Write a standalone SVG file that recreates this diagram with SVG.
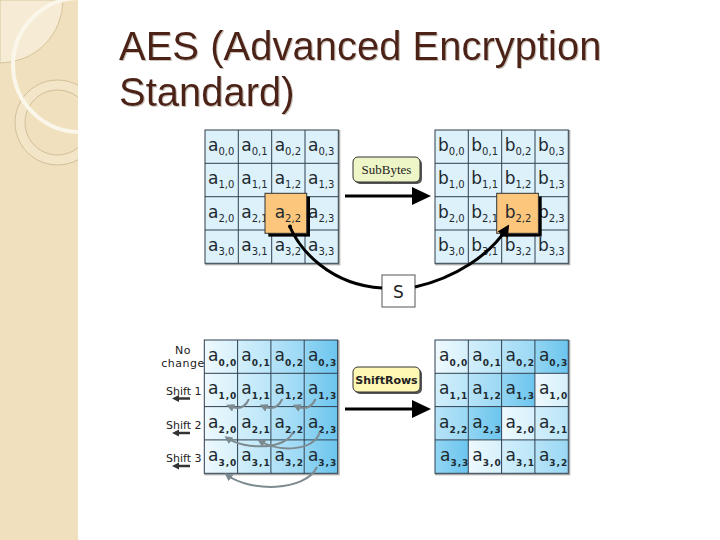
<svg xmlns="http://www.w3.org/2000/svg" width="720" height="540" viewBox="0 0 720 540">
<style>
.title{font-family:"Liberation Sans",Arial,sans-serif;font-size:40px;fill:#4e2418}
.m{font-family:"DejaVu Sans",sans-serif;font-size:17px;fill:#1e2a30}
.s{font-size:10px}
.mb .s{font-size:9px;font-weight:bold;letter-spacing:1px}
.cell{fill:#ddf1fb;stroke:#2f3f48;stroke-width:1}
.cb{stroke:#2f4050;stroke-width:1}
.shadow{fill:none;stroke:#a8a8a8;stroke-width:2}
.lbl{font-family:"DejaVu Sans",sans-serif;font-size:11px;fill:#222}
.gray{fill:none;stroke:#7d8a90;stroke-width:2}
.blk{fill:none;stroke:#000;stroke-width:3}
</style>
<defs>
<linearGradient id="g0" x1="0" y1="0" x2="1" y2="0"><stop offset="0" stop-color="#eef9fe"/><stop offset="1" stop-color="#d6f0fb"/></linearGradient>
<linearGradient id="g1" x1="0" y1="0" x2="1" y2="0"><stop offset="0" stop-color="#d2eefb"/><stop offset="1" stop-color="#bae6f8"/></linearGradient>
<linearGradient id="g2" x1="0" y1="0" x2="1" y2="0"><stop offset="0" stop-color="#b6e3f8"/><stop offset="1" stop-color="#9ad8f4"/></linearGradient>
<linearGradient id="g3" x1="0" y1="0" x2="1" y2="0"><stop offset="0" stop-color="#92d5f3"/><stop offset="1" stop-color="#6cc5ee"/></linearGradient>
<marker id="ga" markerWidth="8" markerHeight="8" refX="5" refY="4" orient="auto" markerUnits="userSpaceOnUse"><path d="M0,0 L8,4 L0,8 z" fill="#7d8a90"/></marker>
<marker id="ba" markerWidth="12" markerHeight="12" refX="8" refY="6" orient="auto" markerUnits="userSpaceOnUse"><path d="M0,0 L12,6 L0,12 z" fill="#000"/></marker>
<clipPath id="stripe"><rect x="0" y="0" width="78" height="540"/></clipPath>
<filter id="ts" x="-5%" y="-20%" width="110%" height="140%"><feDropShadow dx="1" dy="1" stdDeviation="0.6" flood-color="#bfb3a8" flood-opacity="0.8"/></filter>
</defs>
<rect width="720" height="540" fill="#fff"/>
<g id="decor" clip-path="url(#stripe)">
<rect x="0" y="0" width="78" height="540" fill="#f0e0bd"/>
<path d="M0,0 H63 A63,63 0 0 1 0,63 Z" fill="#f6ecd6" stroke="#d6c39c" stroke-width="1"/>
<path d="M57.5,80 a42.5,42.5 0 1 0 0.01,0 Z M57.5,90 a32.5,32.5 0 1 1 -0.01,0 Z" fill="#f3e6c8" fill-rule="evenodd" stroke="#d3bf98" stroke-width="1"/>
<circle cx="80" cy="65" r="67" fill="none" stroke="#fbf6ea" stroke-width="4"/>
</g>
<g id="title" filter="url(#ts)">
<text class="title" x="119" y="60">AES (Advanced Encryption</text>
<text class="title" x="119" y="106">Standard)</text>
</g>
<g id="matrixA" class="mt">
<rect class="shadow" x="206" y="131" width="133.3" height="133.3"/>
<rect x="205" y="130" width="133.3" height="133.3" fill="#ddf1fb" stroke="#2f3f48"/>
<path class="cb" d="M238.3,130 V263.3 M271.7,130 V263.3 M305,130 V263.3 M205,163.3 H338.3 M205,196.7 H338.3 M205,230 H338.3"/>
<text class="m" x="208" y="151">a<tspan class="s" dy="4">0,0</tspan></text>
<text class="m" x="241.3" y="151">a<tspan class="s" dy="4">0,1</tspan></text>
<text class="m" x="274.7" y="151">a<tspan class="s" dy="4">0,2</tspan></text>
<text class="m" x="308" y="151">a<tspan class="s" dy="4">0,3</tspan></text>
<text class="m" x="208" y="184.3">a<tspan class="s" dy="4">1,0</tspan></text>
<text class="m" x="241.3" y="184.3">a<tspan class="s" dy="4">1,1</tspan></text>
<text class="m" x="274.7" y="184.3">a<tspan class="s" dy="4">1,2</tspan></text>
<text class="m" x="308" y="184.3">a<tspan class="s" dy="4">1,3</tspan></text>
<text class="m" x="208" y="217.7">a<tspan class="s" dy="4">2,0</tspan></text>
<text class="m" x="241.3" y="217.7">a<tspan class="s" dy="4">2,1</tspan></text>
<text class="m" x="308" y="217.7">a<tspan class="s" dy="4">2,3</tspan></text>
<text class="m" x="208" y="251">a<tspan class="s" dy="4">3,0</tspan></text>
<text class="m" x="241.3" y="251">a<tspan class="s" dy="4">3,1</tspan></text>
<text class="m" x="274.7" y="251">a<tspan class="s" dy="4">3,2</tspan></text>
<text class="m" x="308" y="251">a<tspan class="s" dy="4">3,3</tspan></text>
<rect x="268.3" y="196.6" width="41.7" height="40" fill="#000"/>
<rect x="265" y="193.3" width="41.7" height="40" fill="#fcc77c" stroke="#333" stroke-width="1"/>
<text class="m" x="274.7" y="217.7">a<tspan class="s" dy="4">2,2</tspan></text>
</g>
<g id="matrixB">
<rect class="shadow" x="436" y="131" width="133.3" height="133.3"/>
<rect x="435" y="130" width="133.3" height="133.3" fill="#ddf1fb" stroke="#2f3f48"/>
<path class="cb" d="M468.3,130 V263.3 M501.7,130 V263.3 M535,130 V263.3 M435,163.3 H568.3 M435,196.7 H568.3 M435,230 H568.3"/>
<text class="m" x="438" y="151">b<tspan class="s" dy="4">0,0</tspan></text>
<text class="m" x="471.3" y="151">b<tspan class="s" dy="4">0,1</tspan></text>
<text class="m" x="504.7" y="151">b<tspan class="s" dy="4">0,2</tspan></text>
<text class="m" x="538" y="151">b<tspan class="s" dy="4">0,3</tspan></text>
<text class="m" x="438" y="184.3">b<tspan class="s" dy="4">1,0</tspan></text>
<text class="m" x="471.3" y="184.3">b<tspan class="s" dy="4">1,1</tspan></text>
<text class="m" x="504.7" y="184.3">b<tspan class="s" dy="4">1,2</tspan></text>
<text class="m" x="538" y="184.3">b<tspan class="s" dy="4">1,3</tspan></text>
<text class="m" x="438" y="217.7">b<tspan class="s" dy="4">2,0</tspan></text>
<text class="m" x="471.3" y="217.7">b<tspan class="s" dy="4">2,1</tspan></text>
<text class="m" x="538" y="217.7">b<tspan class="s" dy="4">2,3</tspan></text>
<text class="m" x="438" y="251">b<tspan class="s" dy="4">3,0</tspan></text>
<text class="m" x="471.3" y="251">b<tspan class="s" dy="4">3,1</tspan></text>
<text class="m" x="504.7" y="251">b<tspan class="s" dy="4">3,2</tspan></text>
<text class="m" x="538" y="251">b<tspan class="s" dy="4">3,3</tspan></text>
<rect x="500" y="196.6" width="41.7" height="40" fill="#000"/>
<rect x="496.7" y="193.3" width="41.7" height="40" fill="#fcc77c" stroke="#333" stroke-width="1"/>
<text class="m" x="504.7" y="217.7">b<tspan class="s" dy="4">2,2</tspan></text>
</g>
<g id="subbytes">
<rect x="355" y="159" width="67" height="25" rx="5" fill="#555"/>
<rect x="353" y="157" width="67" height="25" rx="5" fill="#eef5c6" stroke="#333" stroke-width="1"/>
<text x="386.5" y="174" text-anchor="middle" font-family="'Liberation Serif','Times New Roman',serif" font-size="13" fill="#222">SubBytes</text>
</g>
<g id="sbox">
<rect x="382" y="275" width="33" height="32" fill="#fff" stroke="#555" stroke-width="1"/>
<text x="398.5" y="298" text-anchor="middle" font-family="'DejaVu Sans',sans-serif" font-size="17" fill="#222">S</text>
</g>
<g id="matrixC" class="mb">
<rect class="shadow" x="205.3" y="341" width="133.3" height="133.3"/>
<rect x="204.3" y="340" width="33.3" height="133.3" fill="url(#g0)"/>
<rect x="237.6" y="340" width="33.3" height="133.3" fill="url(#g1)"/>
<rect x="270.9" y="340" width="33.3" height="133.3" fill="url(#g2)"/>
<rect x="304.2" y="340" width="33.3" height="133.3" fill="url(#g3)"/>
<rect x="204.3" y="340" width="133.3" height="133.3" fill="none" stroke="#2f4050"/>
<path class="cb" d="M237.6,340 V473.3 M270.9,340 V473.3 M304.2,340 V473.3 M204.3,373.3 H337.6 M204.3,406.6 H337.6 M204.3,439.9 H337.6"/>
<text class="m" x="208" y="361">a<tspan class="s" dy="5">0,0</tspan></text>
<text class="m" x="241.3" y="361">a<tspan class="s" dy="5">0,1</tspan></text>
<text class="m" x="274.6" y="361">a<tspan class="s" dy="5">0,2</tspan></text>
<text class="m" x="307.9" y="361">a<tspan class="s" dy="5">0,3</tspan></text>
<text class="m" x="208" y="394.3">a<tspan class="s" dy="5">1,0</tspan></text>
<text class="m" x="241.3" y="394.3">a<tspan class="s" dy="5">1,1</tspan></text>
<text class="m" x="274.6" y="394.3">a<tspan class="s" dy="5">1,2</tspan></text>
<text class="m" x="307.9" y="394.3">a<tspan class="s" dy="5">1,3</tspan></text>
<text class="m" x="208" y="427.6">a<tspan class="s" dy="5">2,0</tspan></text>
<text class="m" x="241.3" y="427.6">a<tspan class="s" dy="5">2,1</tspan></text>
<text class="m" x="274.6" y="427.6">a<tspan class="s" dy="5">2,2</tspan></text>
<text class="m" x="307.9" y="427.6">a<tspan class="s" dy="5">2,3</tspan></text>
<text class="m" x="208" y="460.9">a<tspan class="s" dy="5">3,0</tspan></text>
<text class="m" x="241.3" y="460.9">a<tspan class="s" dy="5">3,1</tspan></text>
<text class="m" x="274.6" y="460.9">a<tspan class="s" dy="5">3,2</tspan></text>
<text class="m" x="307.9" y="460.9">a<tspan class="s" dy="5">3,3</tspan></text>
</g>
<g id="rowlabels">
<text class="lbl" x="183" y="354" text-anchor="middle" letter-spacing="0.5">No</text>
<text class="lbl" x="183" y="367" text-anchor="middle" letter-spacing="0.5">change</text>
<text class="lbl" x="166" y="395">Shift 1</text>
<text class="lbl" x="166" y="429">Shift 2</text>
<text class="lbl" x="166" y="462">Shift 3</text>
</g>
<g id="shiftrows">
<rect x="355" y="369" width="67" height="25" rx="5" fill="#555"/>
<rect x="353" y="367" width="67" height="25" rx="5" fill="#fff8b4" stroke="#333" stroke-width="1"/>
<text x="386.5" y="384" text-anchor="middle" font-family="'DejaVu Sans',sans-serif" font-size="11" font-weight="bold" fill="#222">ShiftRows</text>
</g>
<g id="matrixD" class="mb">
<rect class="shadow" x="436" y="341" width="133.3" height="133.3"/>
<rect x="435" y="340" width="33.3" height="33.3" fill="url(#g0)"/>
<rect x="468.3" y="340" width="33.3" height="33.3" fill="url(#g1)"/>
<rect x="501.6" y="340" width="33.3" height="33.3" fill="url(#g2)"/>
<rect x="534.9" y="340" width="33.3" height="33.3" fill="url(#g3)"/>
<rect x="435" y="373.3" width="33.3" height="33.3" fill="url(#g1)"/>
<rect x="468.3" y="373.3" width="33.3" height="33.3" fill="url(#g2)"/>
<rect x="501.6" y="373.3" width="33.3" height="33.3" fill="url(#g3)"/>
<rect x="534.9" y="373.3" width="33.3" height="33.3" fill="url(#g0)"/>
<rect x="435" y="406.6" width="33.3" height="33.3" fill="url(#g2)"/>
<rect x="468.3" y="406.6" width="33.3" height="33.3" fill="url(#g3)"/>
<rect x="501.6" y="406.6" width="33.3" height="33.3" fill="url(#g0)"/>
<rect x="534.9" y="406.6" width="33.3" height="33.3" fill="url(#g1)"/>
<rect x="435" y="439.9" width="33.3" height="33.3" fill="url(#g3)"/>
<rect x="468.3" y="439.9" width="33.3" height="33.3" fill="url(#g0)"/>
<rect x="501.6" y="439.9" width="33.3" height="33.3" fill="url(#g1)"/>
<rect x="534.9" y="439.9" width="33.3" height="33.3" fill="url(#g2)"/>
<rect x="435" y="340" width="133.3" height="133.3" fill="none" stroke="#2f4050"/>
<path class="cb" d="M468.3,340 V473.3 M501.6,340 V473.3 M534.9,340 V473.3 M435,373.3 H568.3 M435,406.6 H568.3 M435,439.9 H568.3"/>
<text class="m" x="439" y="361">a<tspan class="s" dy="5">0,0</tspan></text>
<text class="m" x="472.3" y="361">a<tspan class="s" dy="5">0,1</tspan></text>
<text class="m" x="505.6" y="361">a<tspan class="s" dy="5">0,2</tspan></text>
<text class="m" x="538.9" y="361">a<tspan class="s" dy="5">0,3</tspan></text>
<text class="m" x="439" y="394.3">a<tspan class="s" dy="5">1,1</tspan></text>
<text class="m" x="472.3" y="394.3">a<tspan class="s" dy="5">1,2</tspan></text>
<text class="m" x="505.6" y="394.3">a<tspan class="s" dy="5">1,3</tspan></text>
<text class="m" x="538.9" y="394.3">a<tspan class="s" dy="5">1,0</tspan></text>
<text class="m" x="439" y="427.6">a<tspan class="s" dy="5">2,2</tspan></text>
<text class="m" x="472.3" y="427.6">a<tspan class="s" dy="5">2,3</tspan></text>
<text class="m" x="505.6" y="427.6">a<tspan class="s" dy="5">2,0</tspan></text>
<text class="m" x="538.9" y="427.6">a<tspan class="s" dy="5">2,1</tspan></text>
<text class="m" x="440" y="460.9">a<tspan class="s" dy="5">3,3</tspan></text>
<text class="m" x="472.3" y="460.9">a<tspan class="s" dy="5">3,0</tspan></text>
<text class="m" x="505.6" y="460.9">a<tspan class="s" dy="5">3,1</tspan></text>
<text class="m" x="538.9" y="460.9">a<tspan class="s" dy="5">3,2</tspan></text>
</g>
<g id="connectors">
<line x1="345" y1="196" x2="414" y2="196" stroke="#000" stroke-width="3"/>
<polygon points="412,187 431,196 412,205" fill="#000"/>
<line x1="345" y1="409" x2="414" y2="409" stroke="#000" stroke-width="3"/>
<polygon points="412,400 431,409 412,418" fill="#000"/>
<circle cx="290" cy="226.5" r="2" fill="#000"/>
<path class="blk" d="M290,227 C300,250 330,285 382,288"/>
<path class="blk" d="M415,287 C455,278 490,255 507,228" marker-end="url(#ba)"/>
<path class="gray" d="M249,399 Q243,412 229,406" marker-end="url(#ga)"/>
<path class="gray" d="M282.3,399 Q276.3,412 262.3,406" marker-end="url(#ga)"/>
<path class="gray" d="M315.6,399 Q309.6,412 295.6,406" marker-end="url(#ga)"/>
<path class="gray" d="M293,432 C286,450 245,450 227,438" marker-end="url(#ga)"/>
<path class="gray" d="M320,432 C313,452 278,452 260,441" marker-end="url(#ga)"/>
<path class="gray" d="M317,467 C305,492 250,492 227,475" marker-end="url(#ga)"/>
<path d="M190,398.5 H178" stroke="#333" stroke-width="2.5"/>
<polygon points="172,398.5 179,395 179,402" fill="#333"/>
<path d="M190,433 H178" stroke="#333" stroke-width="2.5"/>
<polygon points="172,433 179,429.5 179,436.5" fill="#333"/>
<path d="M190,466 H178" stroke="#333" stroke-width="2.5"/>
<polygon points="172,466 179,462.5 179,469.5" fill="#333"/>
</g>
</svg>
